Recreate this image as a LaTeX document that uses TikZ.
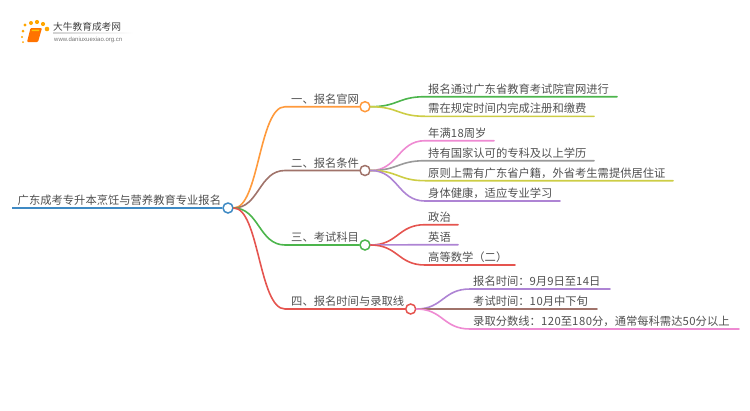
\documentclass[tikz,border=0pt]{standalone}
\usepackage{fontspec}
\setmainfont{Noto Sans CJK SC}
\newfontfamily\urlfont{Liberation Sans}
\newcommand{\dg}[1]{{\addfontfeature{LetterSpace=5}#1}}
\definecolor{cblue}{HTML}{3F8AC4}
\definecolor{corange}{HTML}{FF9A3C}
\definecolor{cbrown}{HTML}{A0736A}
\definecolor{cgreen}{HTML}{4CB54C}
\definecolor{cred}{HTML}{E5544F}
\definecolor{colive}{HTML}{CDCD45}
\definecolor{cpink}{HTML}{EE8AD2}
\definecolor{cgray}{HTML}{9A9A9A}
\definecolor{cpurple}{HTML}{AE84D4}
\definecolor{ctext}{HTML}{505050}
\tikzset{
  x=1pt,y=-1pt,
  lab/.style={anchor=base west,inner sep=0pt,text=ctext,font=\fontsize{11.3}{13}\selectfont},
  hub/.style={circle,draw=#1,fill=white,line width=1.5pt,minimum size=10pt,inner sep=0pt},
  link/.style={line width=1.6pt,line cap=round},
}
% name, y, x-end, colour, text, parent
\newcommand{\leafnode}[7][425]{%
  \coordinate (#2s) at (#1,#3);
  \coordinate (#2e) at (#4,#3);
  \node[lab] (#2) at ([xshift=3pt,yshift=3.6pt]#2s) {#6};
  \draw[link,#5] (#7.east) .. controls ([xshift=-27pt]#2s |- #7.east) and ([xshift=-27pt]#2s) .. (#2s) -- (#2e);
}
\begin{document}
\begin{tikzpicture}
\useasboundingbox (0,0) rectangle (750,410);
% logo
\foreach \px/\py/\pr in {23/42/1, 22/37/1.2, 23/31/1.5, 25/25/1.6, 31/23/2, 37/22/2.1, 43/24/2.1, 47/29/2.3}
  \fill[orange!70!yellow] (\px,\py) circle (\pr);
\fill[orange!90!red,rounded corners=1pt] (30.5,28) -- (42,28) -- (38,42) -- (27,42) -- cycle;
\fill[yellow!60!orange] (32,29.5) -- (39.5,29.5) -- (39,31) -- (31.5,31) -- cycle;
\shade[left color=gray!35,right color=white,draw=none] (53,32.8) rectangle (133,33.6);
\node[inner sep=0pt,anchor=base west,text=black!75,font=\fontsize{9.7}{11}\selectfont] (lt) at (53,30.5) {大牛教育成考网};
\node[inner sep=0pt,anchor=base west,text=black!55,font=\urlfont\fontsize{6}{7}\selectfont] (lu) at (54,41) {www.daniuxuexiao.org.cn};
% root
\node[hub=cblue] (root) at (228,208) {};
\coordinate (rs) at (12,208);
\draw[link,cblue,line cap=butt] (rs) -- (root.west);
\node[lab] (rt) at (17.5,204.4) {广东成考专升本烹饪与营养教育专业报名};
% hubs
\node[hub=corange] (h1) at (365,106.7) {};
\node[hub=cbrown] (h2) at (365,170.5) {};
\node[hub=cgreen] (h3) at (365,245) {};
\node[hub=cred] (h4) at (410.7,309) {};
% level-one connectors
\foreach \hn/\col/\hy/\hx in {h1/corange/106.7/285, h2/cbrown/170.5/285, h3/cgreen/245/285, h4/cred/309/285}{
  \coordinate (\hn s) at (\hx,\hy);
  \draw[link,\col] (root.east) .. controls (259,208) and (259,\hy) .. (\hn s) -- (\hn.west);
}
\node[lab] (t1) at (291,103) {一、报名官网};
\node[lab] (t2) at (291,167) {二、报名条件};
\node[lab] (t3) at (291,241.5) {三、考试科目};
\node[lab] (t4) at (291,305.5) {四、报名时间与录取线};
% leaves
\leafnode{a1}{96.7}{617}{cgreen}{报名通过广东省教育考试院官网进行}{h1}
\leafnode{a2}{116.3}{594}{colive}{需在规定时间内完成注册和缴费}{h1}
\leafnode{b1}{140.7}{494}{cpink}{年满\dg{18}周岁}{h2}
\leafnode{b2}{160.7}{594}{cgray}{持有国家认可的专科及以上学历}{h2}
\leafnode{b3}{180.7}{673}{colive}{原则上需有广东省户籍，外省考生需提供居住证}{h2}
\leafnode{b4}{201}{560}{cpurple}{身体健康，适应专业学习}{h2}
\leafnode{c1}{224.7}{458}{cred}{政治}{h3}
\leafnode{c2}{244.7}{458}{cpurple}{英语}{h3}
\leafnode{c3}{265}{515}{cred}{高等数学（二）}{h3}
\leafnode[470]{d1}{289}{610}{cpurple}{报名时间：\dg{9}月\dg{9}日至\dg{14}日}{h4}
\leafnode[470]{d2}{309}{597}{cbrown}{考试时间：\dg{10}月中下旬}{h4}
\leafnode[470]{d3}{329}{739}{cpink}{录取分数线：\dg{120}至\dg{180}分，通常每科需达\dg{50}分以上}{h4}
\end{tikzpicture}
\end{document}
